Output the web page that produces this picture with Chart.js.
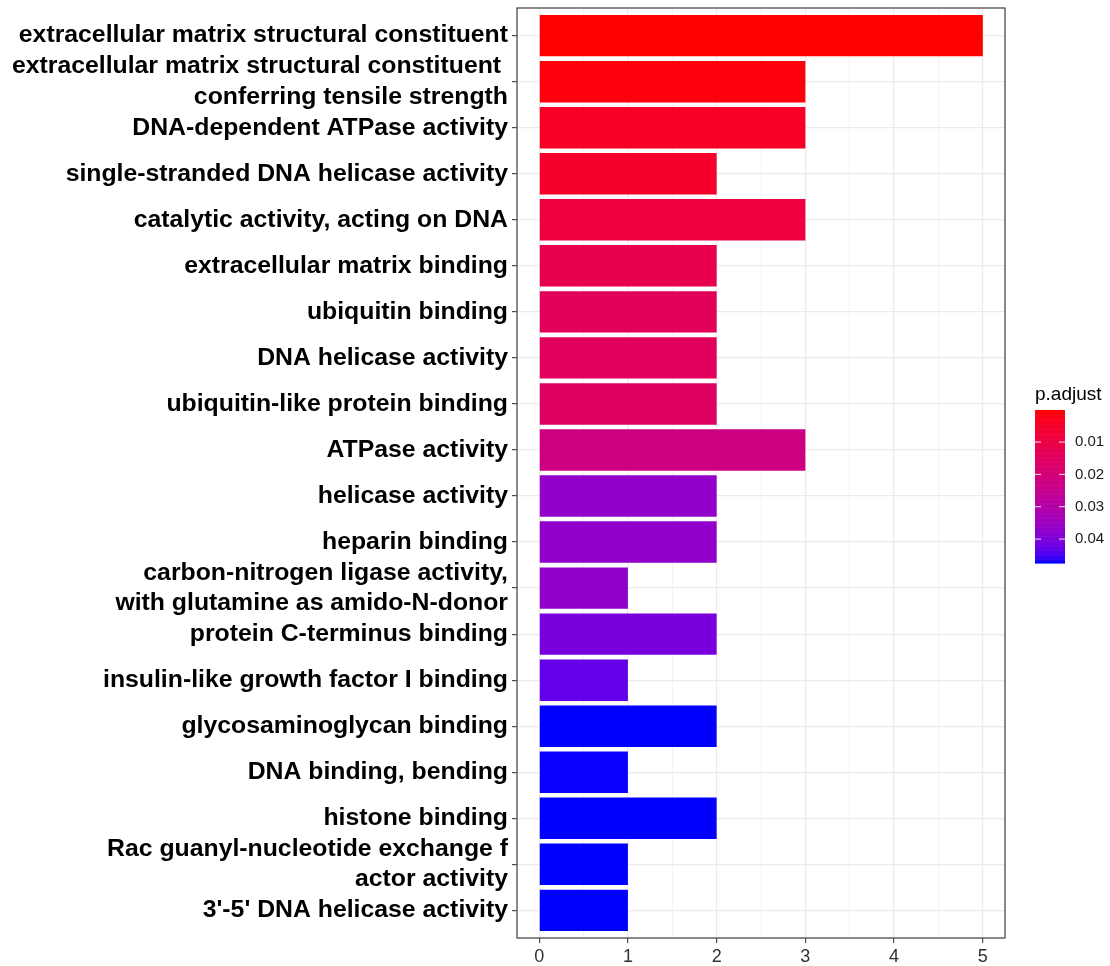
<!DOCTYPE html>
<html>
<head>
<meta charset="utf-8">
<script src="https://cdn.jsdelivr.net/npm/chart.js@4/dist/chart.umd.min.js"></script>
<style>
  html, body { margin: 0; padding: 0; background: #fff; }
  #wrap { width: 1110px; height: 966px; position: relative; }
</style>
</head>
<body>
<div id="wrap"><canvas id="goChart"></canvas></div>
<script>
(function(){
  'use strict';

  // GO terms, top to bottom
  const terms = [
    'extracellular matrix structural constituent',
    ['extracellular matrix structural constituent ', 'conferring tensile strength'],
    'DNA-dependent ATPase activity',
    'single-stranded DNA helicase activity',
    'catalytic activity, acting on DNA',
    'extracellular matrix binding',
    'ubiquitin binding',
    'DNA helicase activity',
    'ubiquitin-like protein binding',
    'ATPase activity',
    'helicase activity',
    'heparin binding',
    ['carbon-nitrogen ligase activity,', 'with glutamine as amido-N-donor'],
    'protein C-terminus binding',
    'insulin-like growth factor I binding',
    'glycosaminoglycan binding',
    'DNA binding, bending',
    'histone binding',
    ['Rac guanyl-nucleotide exchange f', 'actor activity'],
    "3'-5' DNA helicase activity"
  ];
  const counts = [5, 3, 3, 2, 3, 2, 2, 2, 2, 3, 2, 2, 1, 2, 1, 2, 1, 2, 1, 1];
  const padjust = [0.0001, 0.0010, 0.0040, 0.0050, 0.0090, 0.0115, 0.0140, 0.0145, 0.0160, 0.0225,
                   0.0370, 0.0372, 0.0372, 0.0408, 0.0431, 0.0474, 0.0473, 0.0474, 0.0474, 0.0474];
  const xTicks = [0, 0.5, 1, 1.5, 2, 2.5, 3, 3.5, 4, 4.5, 5];
  const legendTicks = [0.01, 0.02, 0.03, 0.04];

  const FONT = '"Liberation Sans", Arial, sans-serif';
  const pMin = Math.min(...padjust);
  const pMax = Math.max(...padjust);

  // red -> blue gradient, interpolated in Lab like ggplot's scale
  function toLin(c) { c /= 255; return c <= 0.04045 ? c / 12.92 : Math.pow((c + 0.055) / 1.055, 2.4); }
  function fromLin(c) { const v = c <= 0.0031308 ? 12.92 * c : 1.055 * Math.pow(c, 1 / 2.4) - 0.055; return Math.max(0, Math.min(255, Math.round(v * 255))); }
  const WX = 0.95047, WY = 1, WZ = 1.08883;
  function rgbToLab(r, g, b) {
    r = toLin(r); g = toLin(g); b = toLin(b);
    const X = (0.4124 * r + 0.3576 * g + 0.1805 * b) / WX;
    const Y = (0.2126 * r + 0.7152 * g + 0.0722 * b) / WY;
    const Z = (0.0193 * r + 0.1192 * g + 0.9505 * b) / WZ;
    const f = t => t > 0.008856 ? Math.cbrt(t) : 7.787 * t + 16 / 116;
    const fx = f(X), fy = f(Y), fz = f(Z);
    return [116 * fy - 16, 500 * (fx - fy), 200 * (fy - fz)];
  }
  function labToRgb(L, a, bb) {
    const fy = (L + 16) / 116, fx = fy + a / 500, fz = fy - bb / 200;
    const inv = t => t * t * t > 0.008856 ? t * t * t : (t - 16 / 116) / 7.787;
    const X = inv(fx) * WX, Y = inv(fy) * WY, Z = inv(fz) * WZ;
    const r = 3.2406 * X - 1.5372 * Y - 0.4986 * Z;
    const g = -0.9689 * X + 1.8758 * Y + 0.0415 * Z;
    const b = 0.0557 * X - 0.2040 * Y + 1.0570 * Z;
    return 'rgb(' + fromLin(r) + ',' + fromLin(g) + ',' + fromLin(b) + ')';
  }
  const labLow = rgbToLab(255, 0, 0);
  const labHigh = rgbToLab(0, 0, 255);
  function fillFor(p) {
    const t = Math.max(0, Math.min(1, (p - pMin) / (pMax - pMin)));
    return labToRgb(
      labLow[0] + (labHigh[0] - labLow[0]) * t,
      labLow[1] + (labHigh[1] - labLow[1]) * t,
      labLow[2] + (labHigh[2] - labLow[2]) * t
    );
  }

  // panel border + colourbar legend
  const decor = {
    id: 'decor',
    afterDraw(chart) {
      const ctx = chart.ctx;
      const a = chart.chartArea;
      ctx.save();
      ctx.strokeStyle = '#4d4d4d';
      ctx.lineWidth = 1.3;
      ctx.strokeRect(a.left, a.top, a.right - a.left, a.bottom - a.top);

      const bx = 1035, bw = 30, top = 410, bot = 563;
      const steps = 120;
      for (let i = 0; i < steps; i++) {
        const p = pMin + (pMax - pMin) * i / (steps - 1);
        ctx.fillStyle = fillFor(p);
        const y0 = top + (bot - top) * i / steps;
        ctx.fillRect(bx, y0, bw, (bot - top) / steps + 0.6);
      }
      ctx.fillStyle = '#000';
      ctx.font = '19px ' + FONT;
      ctx.textAlign = 'left';
      ctx.textBaseline = 'alphabetic';
      ctx.fillText('p.adjust', bx, 400);

      ctx.font = '15px ' + FONT;
      ctx.textBaseline = 'middle';
      legendTicks.forEach(v => {
        const y = top + (v - pMin) / (pMax - pMin) * (bot - top);
        ctx.strokeStyle = 'rgba(255,255,255,0.9)';
        ctx.lineWidth = 1;
        ctx.beginPath();
        ctx.moveTo(bx, y); ctx.lineTo(bx + 6, y);
        ctx.moveTo(bx + bw - 6, y); ctx.lineTo(bx + bw, y);
        ctx.stroke();
        ctx.fillStyle = '#1a1a1a';
        ctx.fillText(v.toFixed(2), bx + bw + 10, y);
      });
      ctx.restore();
    }
  };

  const ctx = document.getElementById('goChart').getContext('2d');
  new Chart(ctx, {
    type: 'bar',
    data: {
      datasets: [{
        data: counts.map((c, i) => ({ x: c, y: i + 1 })),
        backgroundColor: padjust.map(fillFor),
        borderWidth: 0,
        barPercentage: 0.9,
        categoryPercentage: 1
      }]
    },
    options: {
      indexAxis: 'y',
      responsive: true,
      maintainAspectRatio: false,
      animation: false,
      layout: { padding: { left: 0, right: 105, top: 8, bottom: 0 } },
      plugins: { legend: { display: false }, tooltip: { enabled: false } },
      scales: {
        x: {
          type: 'linear',
          min: -0.25,
          max: 5.25,
          offset: false,
          afterBuildTicks: axis => { axis.ticks = xTicks.map(v => ({ value: v })); },
          afterFit: s => { s.height = 28; s.paddingLeft = 0; s.paddingRight = 0; },
          border: { display: false },
          grid: {
            color: '#ebebeb',
            offset: false,
            lineWidth: c => (c.tick && Number.isInteger(c.tick.value)) ? 1.2 : 0.6,
            tickColor: c => (c.tick && Number.isInteger(c.tick.value)) ? '#4d4d4d' : 'rgba(0,0,0,0)',
            tickLength: 5,
            drawTicks: true
          },
          ticks: {
            autoSkip: false,
            maxRotation: 0,
            padding: 3,
            color: '#333',
            font: { family: FONT, size: 18 },
            callback: v => Number.isInteger(v) ? String(v) : ''
          }
        },
        y: {
          type: 'linear',
          reverse: true,
          min: 0.4,
          max: 20.6,
          offset: false,
          afterBuildTicks: axis => { axis.ticks = terms.map((_, i) => ({ value: i + 1 })); },
          afterFit: s => { s.width = 517; s.paddingTop = 0; s.paddingBottom = 0; },
          border: { display: false },
          grid: {
            color: '#ebebeb',
            offset: false,
            lineWidth: 1.2,
            tickColor: '#4d4d4d',
            tickLength: 5,
            drawTicks: true
          },
          ticks: {
            autoSkip: false,
            padding: 4,
            color: '#000',
            font: { family: FONT, size: 24.8, weight: 'bold', lineHeight: 1.22 },
            callback: v => terms[v - 1]
          }
        }
      }
    },
    plugins: [decor]
  });
})();
</script>
</body>
</html>
